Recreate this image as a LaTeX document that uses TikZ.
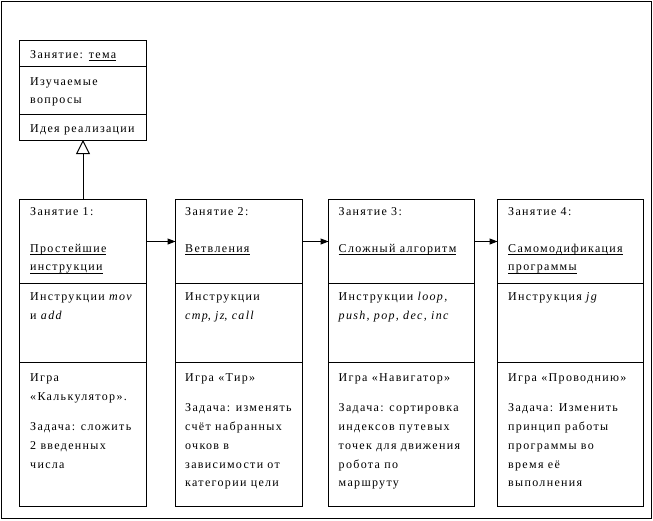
\documentclass[tikz,border=0pt]{standalone}
\usepackage{fontspec}
\setmainfont{Liberation Serif}[LetterSpace=11]
\usetikzlibrary{arrows.meta,calc}
\newcommand\ulx[1]{\setbox0=\hbox{#1}\rlap{\rule[-2.6pt]{\wd0}{0.8pt}}\box0}
\tikzset{
  cell/.style={draw, line width=1pt, anchor=north west, inner sep=0pt, outer sep=0pt},
  txt/.style={anchor=north west, inner sep=0pt, align=left, font=\fontsize{12}{18.8}\selectfont},
  flow/.style={-{Triangle[length=8pt,width=6pt]}, line width=1pt},
  inherit/.style={-{Triangle[open,length=14pt,width=14pt]}, line width=1pt}
}
\begin{document}
\begin{tikzpicture}[x=1pt,y=-1pt]
\useasboundingbox (0,0) rectangle (653,520);
\draw[line width=1pt] (1.5,1.5) rectangle (651.5,518.5);
% top class box
\node[cell, minimum width=127pt, minimum height=25.5pt] (ta) at (19.5,40.5) {};
\node[cell, minimum width=127pt, minimum height=48pt] (tb) at (19.5,66) {};
\node[cell, minimum width=127pt, minimum height=26pt] (tc) at (19.5,114) {};
\node[txt] (tat) at (30,45.1) {\strut Занятие: \ulx{тема}};
\node[txt] (tbt) at (30,71.8) {\strut Изучаемые\\вопросы};
\node[txt] (tct) at (30,119.5) {\strut Идея реализации};
% column boxes
\foreach \n/\x/\w in {1/19.5/127, 2/175.5/126.5, 3/328.5/146, 4/497.5/146}{
  \node[cell, minimum width=\w pt, minimum height=84pt] (b\n a) at (\x,199.5) {};
  \node[cell, minimum width=\w pt, minimum height=79pt] (b\n b) at (\x,283.5) {};
  \node[cell, minimum width=\w pt, minimum height=144pt] (b\n c) at (\x,362.5) {};
}
% column 1
\node[txt] (h1) at (30,202.5) {\strut Занятие 1:};
\node[txt] (n1) at (30,238.8) {\strut\ulx{Простейшие}\\\ulx{инструкции}};
\node[txt] (i1) at (30,287.3) {\strut Инструкции \textit{mov}\\и \textit{add}};
\node[txt] (g1) at (30,368.5) {\strut Игра\\«Калькулятор».\\[11pt]Задача: сложить\\2 введенных\\числа};
% column 2
\node[txt] (h2) at (185,202.5) {\strut Занятие 2:};
\node[txt] (n2) at (185,238.8) {\strut\ulx{Ветвления}};
\node[txt] (i2) at (185,287.3) {\strut Инструкции\\\textit{cmp}, \textit{jz}, \textit{call}};
\node[txt] (g2) at (185,368.5) {\strut Игра «Тир»\\[11pt]Задача: изменять\\счёт набранных\\очков в\\зависимости от\\категории цели};
% column 3
\node[txt] (h3) at (338.5,202.5) {\strut Занятие 3:};
\node[txt] (n3) at (338.5,238.8) {\strut\ulx{Сложный алгоритм}};
\node[txt] (i3) at (338.5,287.3) {\strut Инструкции \textit{loop,}\\\textit{push, pop, dec, inc}};
\node[txt] (g3) at (338.5,368.5) {\strut Игра «Навигатор»\\[11pt]Задача: сортировка\\индексов путевых\\точек для движения\\робота по\\маршруту};
% column 4
\node[txt] (h4) at (508,202.5) {\strut Занятие 4:};
\node[txt] (n4) at (508,238.8) {\strut\ulx{Самомодификация}\\\ulx{программы}};
\node[txt] (i4) at (508,287.3) {\strut Инструкция \textit{jg}};
\node[txt] (g4) at (508,368.5) {\strut Игра «Проводнию»\\[11pt]Задача: Изменить\\принцип работы\\программы во\\время её\\выполнения};
% connectors
\draw[inherit] (b1a.north) -- (tc.south);
\draw[flow] (b1a.east) -- (b2a.west);
\draw[flow] (b2a.east) -- (b3a.west);
\draw[flow] (b3a.east) -- (b4a.west);
\end{tikzpicture}
\end{document}
